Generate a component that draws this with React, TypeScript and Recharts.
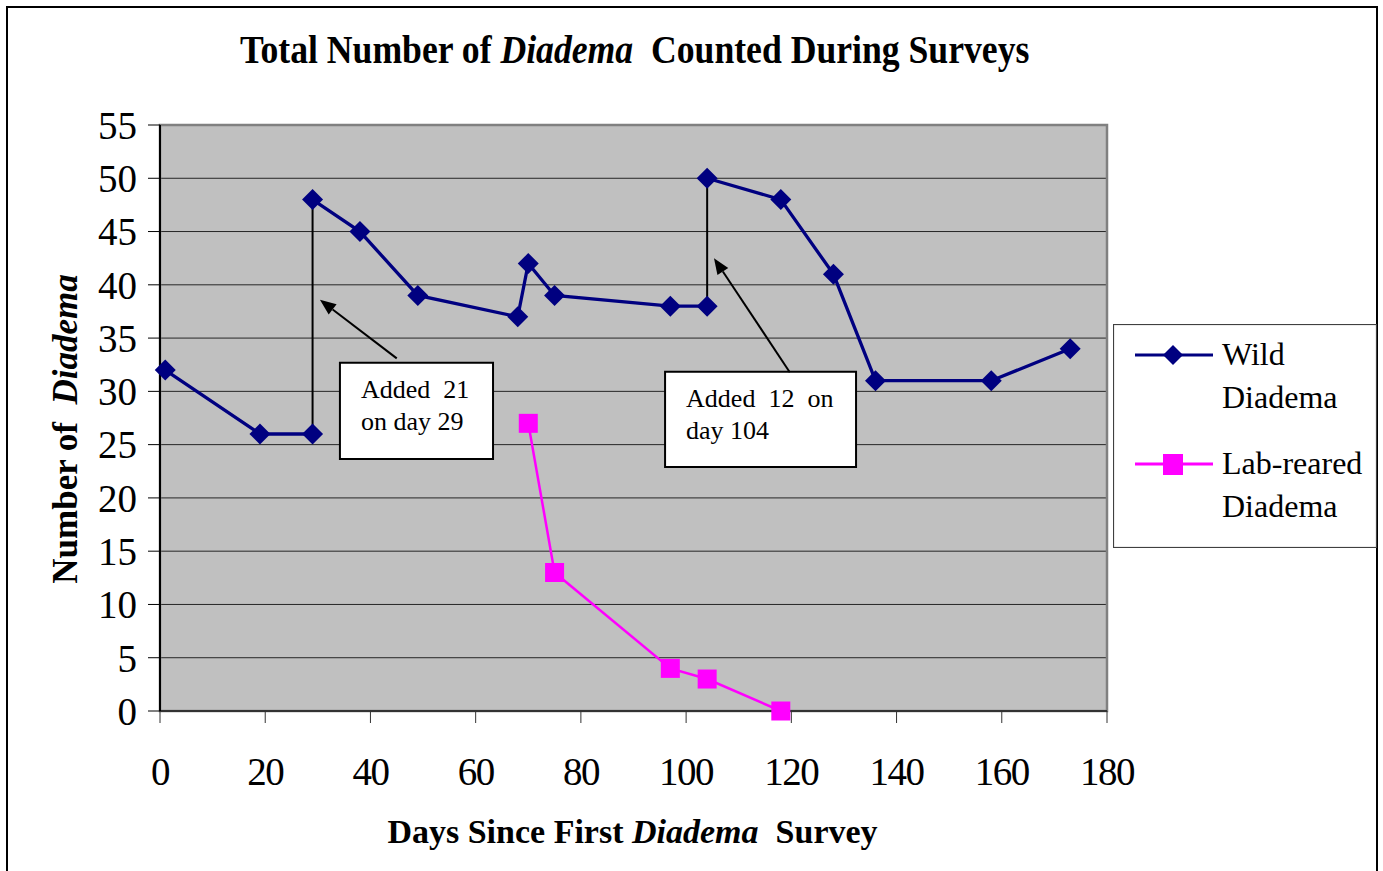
import React from 'react';
import {
  LineChart,
  Line,
  XAxis,
  YAxis,
  CartesianGrid,
  ReferenceArea,
  ReferenceLine,
  Legend,
} from 'recharts';

// ---- data ----
const wildDays = [1, 19, 29, 29, 29, 38, 49, 68, 70, 75, 97, 104, 104, 104, 118, 128, 136, 158, 173];
const wildCounts = [32, 26, 26, null, 48, 45, 39, 37, 42, 39, 38, 38, null, 50, 48, 41, 31, 31, 34];
const labDays = [70, 75, 97, 104, 118];
const labCounts = [27, 13, 4, 3, 0];
const xTicks = [0, 20, 40, 60, 80, 100, 120, 140, 160, 180];
const yTicks = [0, 5, 10, 15, 20, 25, 30, 35, 40, 45, 50, 55];

// additions (drawn as black vertical connectors)
const additionDays = [29, 104];
const additionFrom = [26, 38];
const additionTo = [48, 50];

// annotation text
const note1Lines = ['Added  21', 'on day 29'];
const note2Lines = ['Added  12  on', 'day 104'];

const seriesOrder = ['wild', 'lab'];

const wildData = wildDays.map((d, i) => ({ day: d, wild: wildCounts[i] }));
const labData = labDays.map((d, i) => ({ day: d, lab: labCounts[i] }));

const SERIF = '"Liberation Serif", "Times New Roman", serif';
const NAVY = '#000080';
const MAGENTA = '#FF00FF';

const Diamond = (props: any) => {
  const { cx, cy, index } = props;
  if (cx == null || cy == null || isNaN(cx) || isNaN(cy) || props.value == null) return <g key={`dn${index}`} />;
  const r = 10.5;
  return <path key={`d${index}`} d={`M${cx},${cy - r}L${cx + r},${cy}L${cx},${cy + r}L${cx - r},${cy}Z`} fill={NAVY} />;
};

const Square = (props: any) => {
  const { cx, cy, index } = props;
  if (cx == null || cy == null || isNaN(cx) || isNaN(cy)) return <g key={`sn${index}`} />;
  const s = 19;
  return <rect key={`s${index}`} x={cx - s / 2} y={cy - s / 2} width={s} height={s} fill={MAGENTA} />;
};

const arrowShape = (p: any) => {
  const { x1, y1, x2, y2 } = p;
  const ang = Math.atan2(y2 - y1, x2 - x1);
  const L = 16;
  const W = 6.5;
  const bx = x2 - L * Math.cos(ang);
  const by = y2 - L * Math.sin(ang);
  const px = -Math.sin(ang) * W;
  const py = Math.cos(ang) * W;
  return (
    <g>
      <line x1={x1} y1={y1} x2={bx} y2={by} stroke="#000" strokeWidth={2} />
      <polygon points={`${x2},${y2} ${bx + px},${by + py} ${bx - px},${by - py}`} fill="#000" />
    </g>
  );
};

const plainLine = (p: any) => (
  <line x1={p.x1} y1={p.y1} x2={p.x2} y2={p.y2} stroke="#000" strokeWidth={2} />
);

const boxLabel = (lines: string[]) => (props: any) => {
  const vb = props.viewBox || {};
  return (
    <text x={vb.x + 21} y={vb.y + 35} fontFamily={SERIF} fontSize={26} fill="#000" xmlSpace="preserve">
      {lines.map((l, i) => (
        <tspan key={i} x={vb.x + 21} dy={i === 0 ? 0 : 32}>
          {l}
        </tspan>
      ))}
    </text>
  );
};

const YTick = (props: any) => {
  const { x, y, payload } = props;
  return (
    <text x={x} y={y} dy="0.355em" textAnchor="end" fontFamily={SERIF} fontSize={39} fill="#000">
      {payload.value}
    </text>
  );
};

const XTick = (props: any) => {
  const { x, y, payload } = props;
  return (
    <text x={x} y={y} dy="0.71em" textAnchor="middle" fontFamily={SERIF} fontSize={39} fill="#000" letterSpacing={-1.5}>
      {payload.value}
    </text>
  );
};

const yLabel = (props: any) => {
  const vb = props.viewBox || { x: 0, y: 125, width: 160, height: 586 };
  const cx = 77;
  const cy = vb.y + vb.height / 2 + 11;
  return (
    <text
      x={cx}
      y={cy}
      transform={`rotate(-90, ${cx}, ${cy})`}
      textAnchor="middle"
      fontFamily={SERIF}
      fontSize={35}
      fontWeight="bold"
      fill="#000"
      xmlSpace="preserve"
    >
      <tspan>Number of  </tspan>
      <tspan fontStyle="italic">Diadema</tspan>
    </text>
  );
};

const xLabel = (props: any) => {
  const vb = props.viewBox || { x: 160, y: 711, width: 947, height: 60 };
  return (
    <text
      x={vb.x + vb.width / 2 - 1}
      y={843}
      textAnchor="middle"
      fontFamily={SERIF}
      fontSize={34}
      fontWeight="bold"
      fill="#000"
      xmlSpace="preserve"
    >
      <tspan>Days Since First </tspan>
      <tspan fontStyle="italic">Diadema</tspan>
      <tspan>  Survey</tspan>
    </text>
  );
};

const renderLegend = (props: any) => {
  const payload = [...(props.payload || [])].sort(
    (a: any, b: any) => seriesOrder.indexOf(a.dataKey) - seriesOrder.indexOf(b.dataKey)
  );
  return (
    <svg width={264} height={224} style={{ display: 'block' }}>
      <rect x={0.5} y={0.5} width={263} height={223} fill="#fff" stroke="#404040" strokeWidth={1.2} />
      {payload.map((entry: any, i: number) => {
        const ly = 31 + i * 109;
        const words = String(entry.value).split(' ');
        const color = entry.color;
        return (
          <g key={i}>
            <line x1={22} y1={ly} x2={100} y2={ly} stroke={color} strokeWidth={3} />
            {entry.dataKey === 'wild' ? (
              <path d={`M60,${ly - 10}L70,${ly}L60,${ly + 10}L50,${ly}Z`} fill={color} />
            ) : (
              <rect x={50} y={ly - 10} width={20} height={21} fill={color} />
            )}
            {words.map((w: string, j: number) => (
              <text key={j} x={109} y={ly + 10 + j * 43} fontFamily={SERIF} fontSize={32} fill="#000">
                {w}
              </text>
            ))}
          </g>
        );
      })}
    </svg>
  );
};

export default function App() {
  return (
    <div style={{ position: 'absolute', left: 0, top: 0, width: 1383, height: 871, background: '#fff', overflow: 'hidden' }}>
      <div
        style={{
          position: 'absolute',
          left: 6,
          top: 6,
          width: 1372,
          height: 865,
          boxSizing: 'border-box',
          borderTop: '2px solid #000',
          borderLeft: '2px solid #000',
          borderRight: '2px solid #000',
        }}
      />
      <div style={{ position: 'absolute', left: 0, top: 0 }}>
        <LineChart width={1383} height={871} margin={{ top: 125, right: 276, left: 0, bottom: 100 }}>
          <CartesianGrid vertical={false} horizontal={true} fill="#C0C0C0" fillOpacity={1} stroke="#262626" strokeWidth={1} />
          <XAxis
            dataKey="day"
            type="number"
            domain={[0, 180]}
            ticks={xTicks}
            interval={0}
            height={60}
            tickSize={12}
            tickMargin={34}
            tick={<XTick />}
            axisLine={{ stroke: '#333', strokeWidth: 2 }}
            tickLine={{ stroke: '#333', strokeWidth: 1 }}
            allowDuplicatedCategory={false}
            label={{ content: xLabel } as any}
          />
          <YAxis
            type="number"
            domain={[0, 55]}
            ticks={yTicks}
            interval={0}
            width={160}
            tickSize={12}
            tickMargin={11}
            tick={<YTick />}
            axisLine={{ stroke: '#000', strokeWidth: 2 }}
            tickLine={{ stroke: '#000', strokeWidth: 1 }}
            label={{ content: yLabel } as any}
          />
          <ReferenceArea x1={0} x2={180} y1={0} y2={55} fill="none" stroke="#808080" strokeWidth={2.5} ifOverflow="visible" />
          <ReferenceArea
            x1={34.2}
            x2={63.3}
            y1={23.66}
            y2={32.68}
            fill="#fff"
            fillOpacity={1}
            stroke="#000"
            strokeWidth={2}
            label={boxLabel(note1Lines) as any}
          />
          <ReferenceArea
            x1={96.0}
            x2={132.3}
            y1={22.91}
            y2={31.83}
            fill="#fff"
            fillOpacity={1}
            stroke="#000"
            strokeWidth={2}
            label={boxLabel(note2Lines) as any}
          />
          <ReferenceLine segment={[{ x: 45.0, y: 33.1 }, { x: 30.4, y: 38.6 }]} shape={arrowShape} ifOverflow="visible" />
          <ReferenceLine segment={[{ x: 119.7, y: 31.8 }, { x: 105.3, y: 42.5 }]} shape={arrowShape} ifOverflow="visible" />
          {additionDays.map((d, i) => (
            <ReferenceLine
              key={`add${i}`}
              segment={[{ x: d, y: additionFrom[i] }, { x: d, y: additionTo[i] }]}
              shape={plainLine}
              ifOverflow="visible"
            />
          ))}
          <Line
            data={wildData}
            dataKey="wild"
            name="Wild Diadema"
            stroke={NAVY}
            strokeWidth={3.3}
            dot={Diamond}
            activeDot={false}
            connectNulls={false}
            legendType="diamond"
            isAnimationActive={false}
          />
          <Line
            data={labData}
            dataKey="lab"
            name="Lab-reared Diadema"
            stroke={MAGENTA}
            strokeWidth={2.5}
            dot={Square}
            activeDot={false}
            legendType="square"
            isAnimationActive={false}
          />
          <Legend
            layout="vertical"
            align="center"
            verticalAlign="middle"
            itemSorter={null as any}
            content={renderLegend}
            wrapperStyle={{ position: 'absolute', left: 1113, top: 324, width: 264, height: 224 }}
          />
        </LineChart>
      </div>
      <svg width={1383} height={90} style={{ position: 'absolute', left: 0, top: 0, pointerEvents: 'none' }}>
        <text
          x={0}
          y={0}
          transform="translate(240,63) scale(0.87,1)"
          fontFamily={SERIF}
          fontSize={41}
          fontWeight="bold"
          fill="#000"
          xmlSpace="preserve"
        >
          <tspan>Total Number of </tspan>
          <tspan fontStyle="italic">Diadema</tspan>
          <tspan>  Counted During Surveys</tspan>
        </text>
      </svg>
    </div>
  );
}
